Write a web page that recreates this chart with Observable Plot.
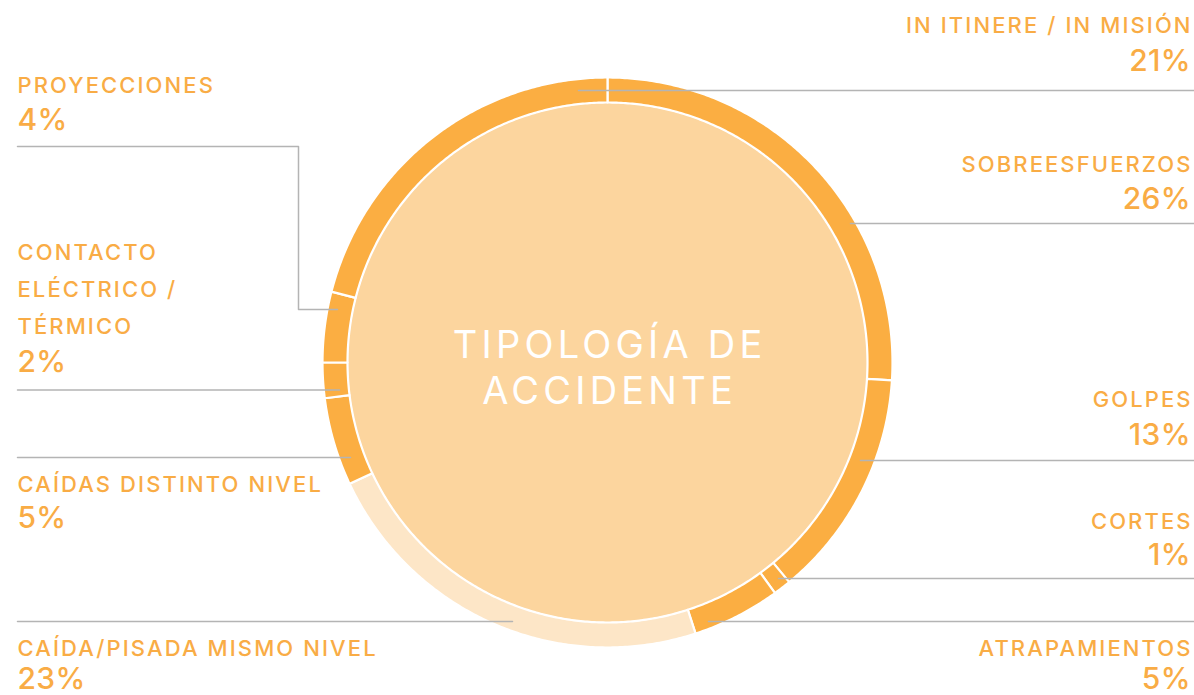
<!DOCTYPE html>
<html><head><meta charset="utf-8">
<script src="https://cdn.jsdelivr.net/npm/d3@7"></script>
<script src="https://cdn.jsdelivr.net/npm/@observablehq/plot@0.6"></script>
<style>
html,body{margin:0;padding:0;background:#fff;}
#chart{width:1194px;height:695px;overflow:hidden;}
</style></head><body><div id="chart"></div>
<script>
// ---- data (clockwise from 12 o'clock) ----
const categories = ["SOBREESFUERZOS","GOLPES","CORTES","ATRAPAMIENTOS","CAÍDA/PISADA MISMO NIVEL","CAÍDAS DISTINTO NIVEL","CONTACTO ELÉCTRICO / TÉRMICO","PROYECCIONES","IN ITINERE / IN MISIÓN"];
const values = [26,13,1,5,23,5,2,4,21];
const displayNames = ["SOBREESFUERZOS","GOLPES","CORTES","ATRAPAMIENTOS","CAÍDA/PISADA MISMO NIVEL","CAÍDAS DISTINTO NIVEL","CONTACTO\nELÉCTRICO /\nTÉRMICO","PROYECCIONES","IN ITINERE / IN MISIÓN"];
const centerTitle = "TIPOLOGÍA DE\nACCIDENTE";

// ---- styles ----
const ringColors = ["#FBAE42","#FBAE42","#FBAE42","#FBAE42","#FDE6C7","#FBAE42","#FBAE42","#FBAE42","#FBAE42"];
const discColor = "#FCD59E";
const textColor = "#F9AC45";
const leaderColor = "#B4B4B4";
const FONT = "Inter";
const nameSpacing = 2.1, pctSpacing = 0.3, centerSpacing = 4.2;

// ---- layout ----
const W = 1194, H = 695;
const center = {x: 607, y: 362};
const rOuter = 285, rInner = 260, rDisc = 259.5;
const leftX = 17, rightX = 1190;
// per category: side, name baseline (last line), pct baseline, leader polyline
const layout = [
  {side: "right", nameY: 171, pctY: 208, leader: [[1194,223],[850,223]]},
  {side: "right", nameY: 406, pctY: 444, leader: [[1194,460],[860,460]]},
  {side: "right", nameY: 528, pctY: 564, leader: [[1194,578],[778,578]]},
  {side: "right", nameY: 655, pctY: 688, leader: [[1194,621],[708,621]]},
  {side: "left",  nameY: 655, pctY: 688, leader: [[17,621],[512,621]]},
  {side: "left",  nameY: 491, pctY: 527, leader: [[17,457],[350,457]]},
  {side: "left",  nameY: 333, pctY: 371, leader: [[17,389.5],[339,389.5]]},
  {side: "left",  nameY: 92,  pctY: 129, leader: [[17,146],[298,146],[298,309],[337,309]]},
  {side: "right", nameY: 32,  pctY: 70,  leader: [[1194,90],[578,90]]}
];

// ---- arc polygons from the values ----
const total = d3.sum(values);
const cum = d3.cumsum([0, ...values]);
const arcRows = [];
categories.forEach((cat, i) => {
  const a0 = cum[i] / total * 2 * Math.PI, a1 = cum[i + 1] / total * 2 * Math.PI;
  const n = Math.max(4, Math.ceil((a1 - a0) / (Math.PI / 360)));
  const pt = (r, a) => ({cat, x: center.x + r * Math.sin(a), y: center.y - r * Math.cos(a)});
  for (let k = 0; k <= n; k++) arcRows.push(pt(rOuter, a0 + (a1 - a0) * k / n));
  for (let k = n; k >= 0; k--) arcRows.push(pt(rInner, a0 + (a1 - a0) * k / n));
});

const leaderRows = [];
layout.forEach((l, i) => l.leader.forEach(([x, y]) => leaderRows.push({cat: categories[i], x, y})));

const labelRows = categories.map((cat, i) => ({
  cat,
  side: layout[i].side,
  name: displayNames[i],
  pct: values[i] + "%",
  nameY: layout[i].nameY,
  pctY: layout[i].pctY
}));
const leftRows = labelRows.filter(d => d.side === "left");
const rightRows = labelRows.filter(d => d.side === "right");

const nameOpts = {y: "nameY", text: "name", lineAnchor: "bottom", lineHeight: 37 / 22, fontSize: 22, fontWeight: 500, fill: textColor};
const pctOpts = {y: "pctY", text: "pct", lineAnchor: "bottom", fontSize: 30, fontWeight: 500, fill: textColor};

const chart = Plot.plot({
  width: W, height: H,
  margin: 0,
  x: {domain: [0, W], range: [0, W], axis: null},
  y: {domain: [0, H], range: [0, H], axis: null},
  color: {domain: categories, range: ringColors},
  style: {fontFamily: FONT, background: "white"},
  marks: [
    Plot.dot([center], {x: "x", y: "y", r: rDisc, fill: discColor, stroke: "none"}),
    Plot.line(arcRows, {x: "x", y: "y", z: "cat", fill: "cat", stroke: "white", strokeWidth: 2.2, curve: "linear-closed"}),
    Plot.line(leaderRows, {x: "x", y: "y", z: "cat", stroke: leaderColor, strokeWidth: 1.5}),
    Plot.text(leftRows, {...nameOpts, x: () => leftX, textAnchor: "start"}),
    Plot.text(rightRows, {...nameOpts, x: () => rightX + nameSpacing, textAnchor: "end"}),
    Plot.text(leftRows, {...pctOpts, x: () => leftX, textAnchor: "start"}),
    Plot.text(rightRows, {...pctOpts, x: () => rightX + pctSpacing, textAnchor: "end"}),
    Plot.text([centerTitle], {x: () => center.x + centerSpacing / 2, y: () => 403, text: d => d, textAnchor: "middle", lineAnchor: "bottom", lineHeight: 46 / 38, fontSize: 38, fontWeight: 400, fill: "white"})
  ]
});
document.getElementById("chart").appendChild(chart);

// letter spacing per text mark (in mark order)
const spacing = [nameSpacing, nameSpacing, pctSpacing, pctSpacing, centerSpacing];
chart.querySelectorAll('g[aria-label="text"]').forEach((g, i) => {
  g.querySelectorAll("text").forEach(t => t.style.letterSpacing = spacing[i] + "px");
});
</script>
</body></html>
